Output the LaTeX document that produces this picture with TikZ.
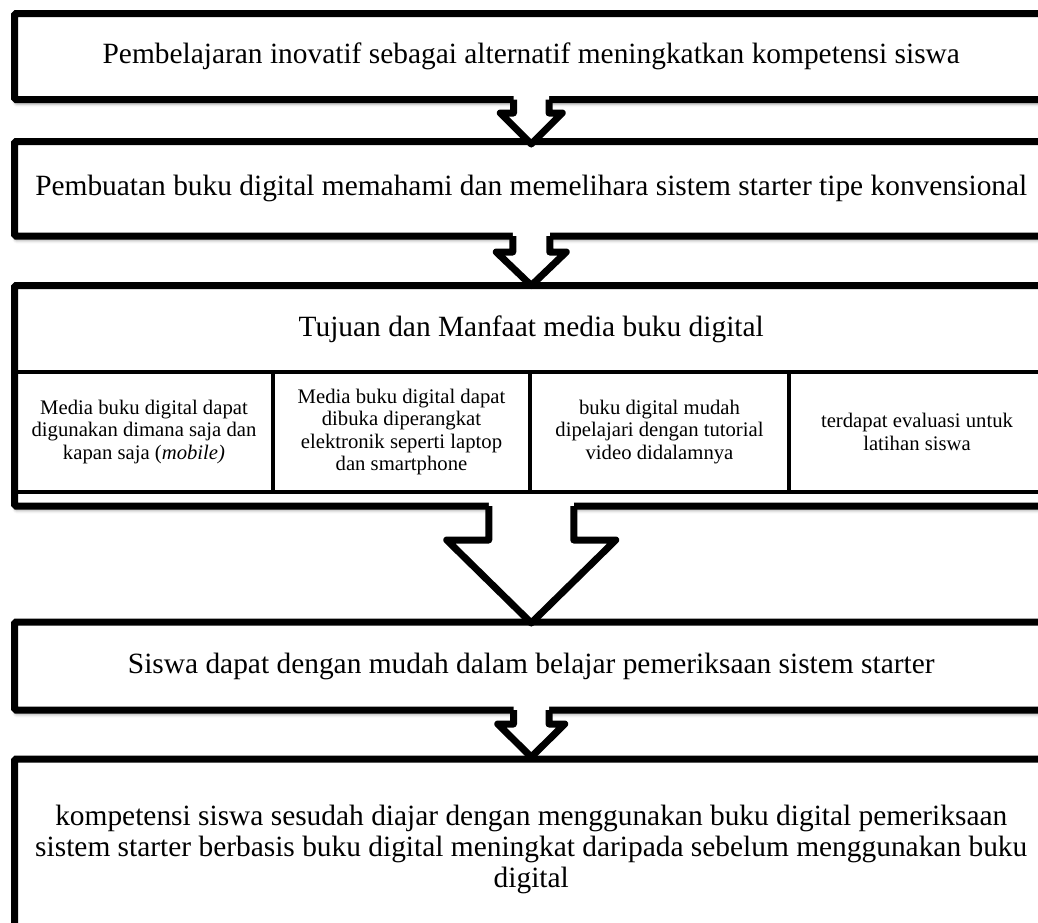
\documentclass[tikz,border=0pt]{standalone}
\usepackage{fontspec}
\setmainfont{Liberation Serif}
\usetikzlibrary{calc,shadows.blur}

\tikzset{
  frame/.style={draw, line width=7pt, fill=white, rounded corners=1.5pt,
    minimum width=1033.5pt, inner sep=0pt, outer sep=0pt, align=center,
    blur shadow={shadow xshift=0.5pt, shadow yshift=-4.5pt,
      shadow blur radius=3pt, shadow opacity=35}},
  bigtext/.style={font=\fontsize{29.4}{31}\selectfont},
  cell/.style={draw, line width=3.5pt, minimum height=120pt, inner sep=0pt,
    outer sep=0pt, align=center, font=\fontsize{20.7}{22.5}\selectfont},
  arrowline/.style={line width=7pt, line join=round},
}

% Block arrow joining two stacked boxes:
% #1 upper box, #2 lower box, #3 half shaft width, #4 half head width,
% #5 depth of the head shoulders below the upper box, #6 tip offset
\newcommand\blockarrow[6]{%
  \fill[white] ($(#1.south)+(-#3,-5)$) -- ($(#1.south)+(-#3,#5)$)
    -- ($(#1.south)+(-#4,#5)$) -- ($(#2.north)+(0,#6)$)
    -- ($(#1.south)+(#4,#5)$) -- ($(#1.south)+(#3,#5)$)
    -- ($(#1.south)+(#3,-5)$) -- cycle;
  \draw[arrowline] ($(#1.south)+(-#3,0)$) -- ($(#1.south)+(-#3,#5)$)
    -- ($(#1.south)+(-#4,#5)$) -- ($(#2.north)+(0,#6)$)
    -- ($(#1.south)+(#4,#5)$) -- ($(#1.south)+(#3,#5)$)
    -- ($(#1.south)+(#3,0)$);
}

\begin{document}
\begin{tikzpicture}[x=1pt,y=-1pt]
\useasboundingbox (0,0) rectangle (1038,922);

% stacked boxes
\node[frame, minimum height=86pt, bigtext] (b1) at (531.25,56.5)
  {Pembelajaran inovatif sebagai alternatif meningkatkan kompetensi siswa};
\node[frame, minimum height=94.5pt, bigtext] (b2) at (531.25,188.75)
  {Pembuatan buku digital memahami dan memelihara sistem starter tipe konvensional};
\node[frame, minimum height=220.5pt] (b3) at (531.25,395.75) {};
\node[frame, minimum height=88pt, bigtext] (b4) at (531.25,666)
  {Siswa dapat dengan mudah dalam belajar pemeriksaan sistem starter};
\node[frame, minimum height=180pt, bigtext] (b5) at (531.25,849)
  {kompetensi siswa sesudah diajar dengan menggunakan buku digital pemeriksaan\\
   sistem starter berbasis buku digital meningkat daripada sebelum menggunakan buku\\
   digital};

% contents of the third box
\node[bigtext] (t3) at (531.25,329) {Tujuan dan Manfaat media buku digital};
\node[cell, minimum width=258pt] (c1) at (144,432)
  {Media buku digital dapat\\digunakan dimana saja dan\\kapan saja (\textit{mobile)}};
\node[cell, minimum width=257pt] (c2) at (401.5,432)
  {Media buku digital dapat\\dibuka diperangkat\\elektronik seperti laptop\\dan smartphone};
\node[cell, minimum width=259pt] (c3) at (659.5,432)
  {buku digital mudah\\dipelajari dengan tutorial\\video didalamnya};
\node[cell, minimum width=256pt] (c4) at (917,432)
  {terdapat evaluasi untuk\\latihan siswa};

% arrows between the boxes
\blockarrow{b1}{b2}{17.75}{31}{13.5}{2.5}
\blockarrow{b2}{b3}{18.5}{35}{16}{0}
\blockarrow{b3}{b4}{42.5}{84.5}{34}{1}
\blockarrow{b4}{b5}{17.75}{33.5}{14}{-2}
\end{tikzpicture}
\end{document}
